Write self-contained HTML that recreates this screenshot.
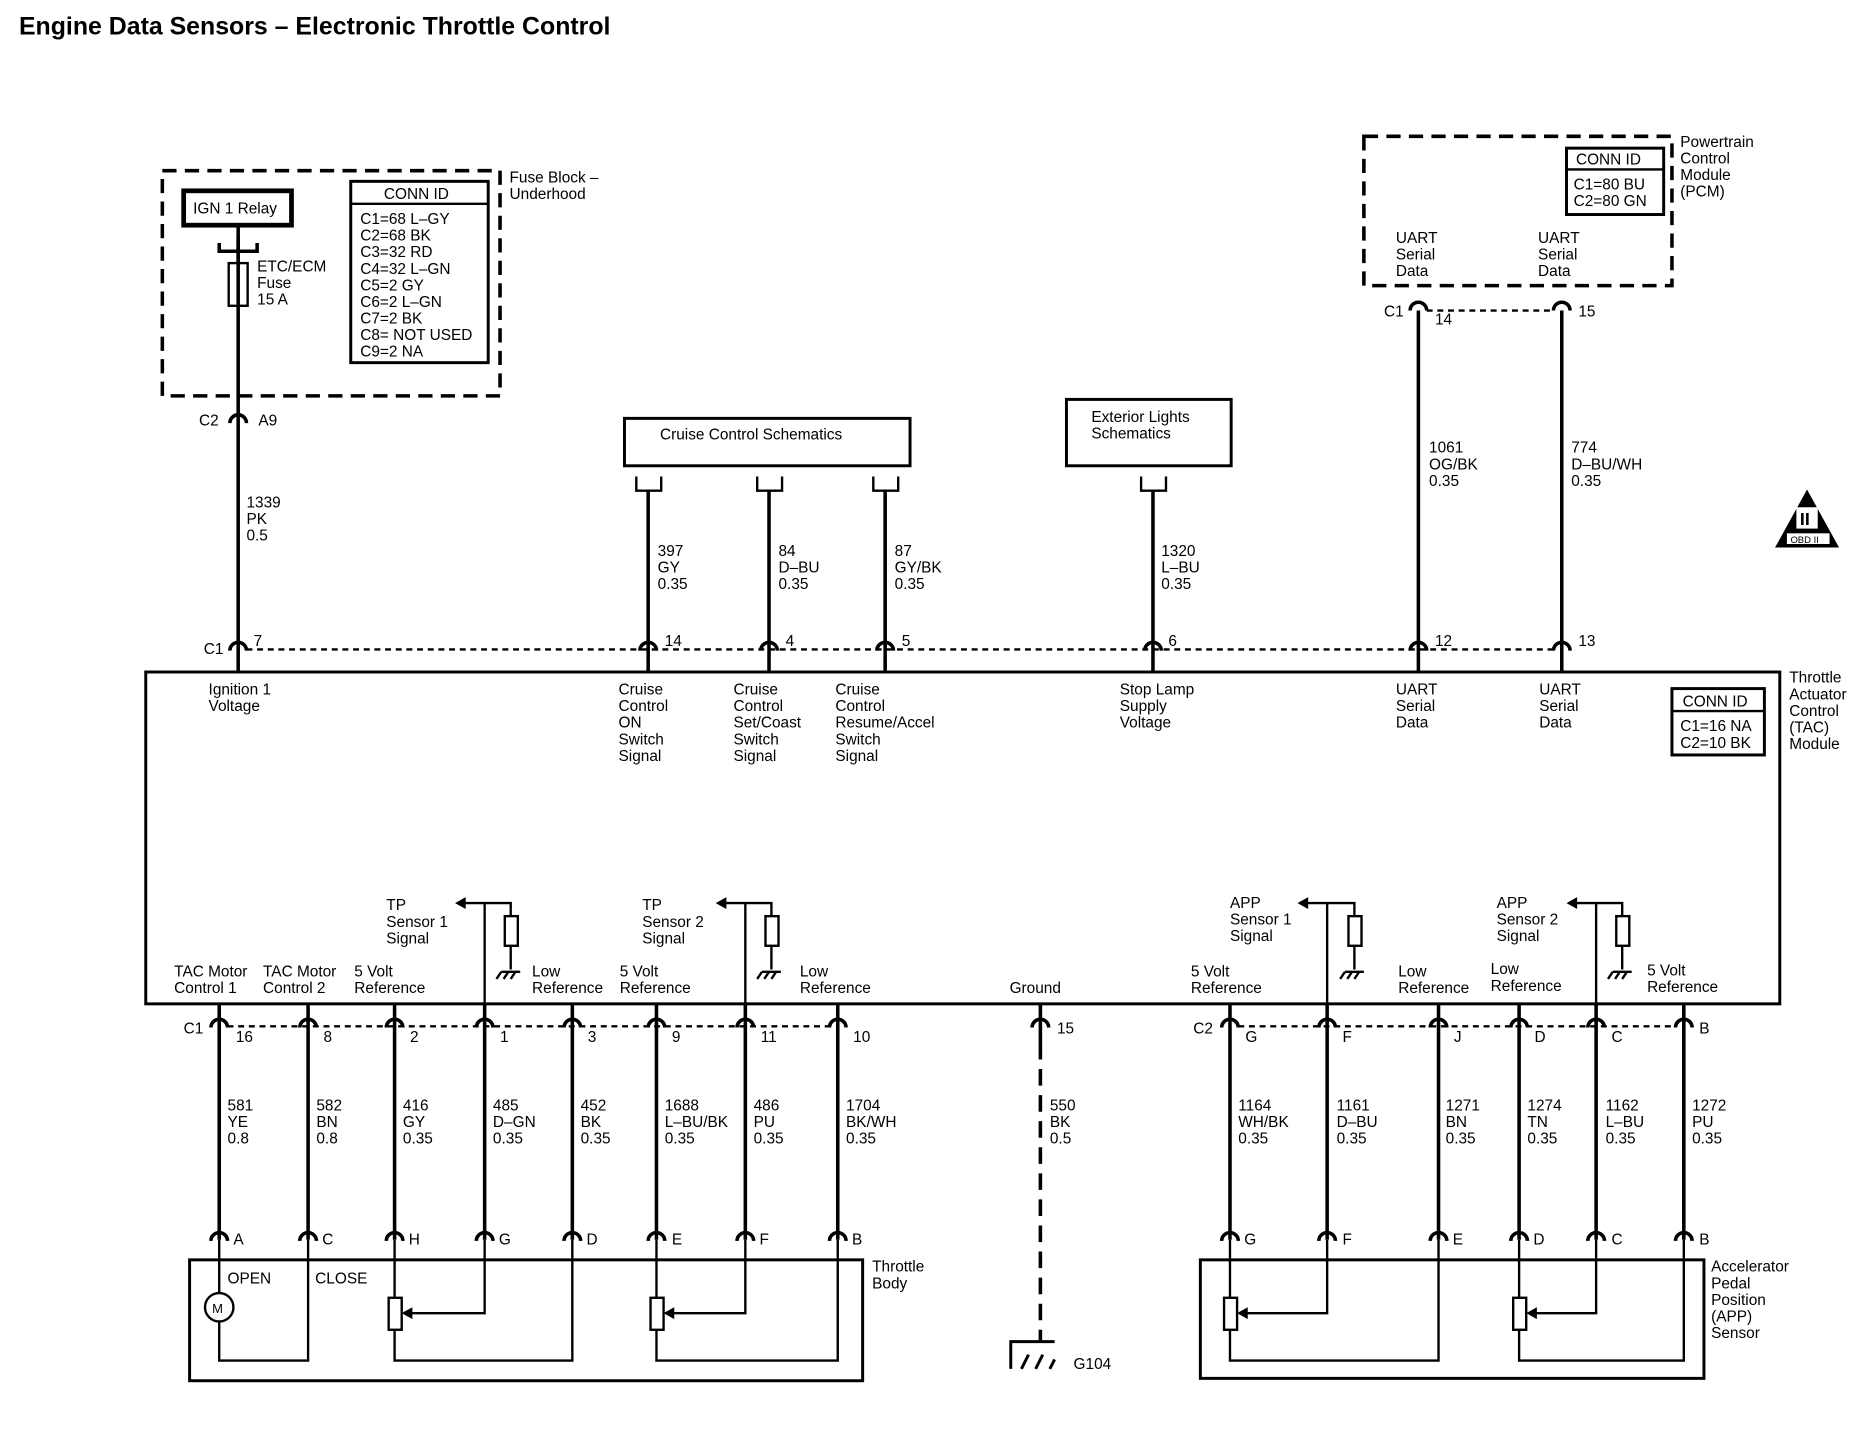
<!DOCTYPE html>
<html><head><meta charset="utf-8"><style>
html,body{margin:0;padding:0;background:#fff}
svg{display:block}
text{font-family:"Liberation Sans",Arial,sans-serif;font-size:13px;fill:#000}
</style></head><body>
<svg width="1858" height="1440" viewBox="0 0 1568 1215" preserveAspectRatio="none" xmlns="http://www.w3.org/2000/svg">
<defs>
<g id="cn"><path d="M-7,5 A7,7 0 0 1 7,5" fill="none" stroke="#000" stroke-width="3"/></g>
<g id="gnd"><path d="M-8,0 H8 M-8,0 l-4,6 M-2,0 l-4,6 M4,0 l-4,6" stroke="#000" stroke-width="2" fill="none"/></g>
</defs>
<g stroke="#000" fill="none" stroke-width="3">
<text x="16" y="29" style="font-size:21px;font-weight:bold" stroke="none">Engine Data Sensors – Electronic Throttle Control</text>

<rect x="137" y="144" width="285" height="190" stroke-dasharray="12,7"/>
<rect x="155" y="161" width="91" height="29" stroke-width="4"/>
<rect x="296" y="153" width="116" height="153" stroke-width="2.5"/>
<line x1="296" y1="172" x2="412" y2="172" stroke-width="2"/>
<path d="M185,205 V212 H217 V205 M201,200 V222"/>
<rect x="193" y="222" width="16" height="36" stroke-width="2"/>
<line x1="201" y1="190" x2="201" y2="548"/>
<rect x="1151" y="115" width="260" height="126" stroke-dasharray="12,7"/>
<rect x="1322" y="125" width="82" height="56" stroke-width="2.5"/>
<line x1="1322" y1="143" x2="1404" y2="143" stroke-width="2"/>
<line x1="1197" y1="262" x2="1197" y2="548"/>
<line x1="1318" y1="262" x2="1318" y2="548"/>
<line x1="1204" y1="262" x2="1311" y2="262" stroke-dasharray="5,4" stroke-width="2"/>
<rect x="527" y="353" width="241" height="40" stroke-width="2.5"/>
<rect x="900" y="337" width="139" height="56" stroke-width="2.5"/>
<path d="M537,402 V414 H558 V402 M639,402 V414 H660 V402 M737,402 V414 H758 V402 M963,402 V414 H984 V402" stroke-width="2"/>
<line x1="547" y1="414" x2="547" y2="548"/>
<line x1="649" y1="414" x2="649" y2="548"/>
<line x1="747" y1="414" x2="747" y2="548"/>
<line x1="973" y1="414" x2="973" y2="548"/>
<rect x="123" y="567" width="1379" height="280" stroke-width="2.5"/>
<line x1="208" y1="548" x2="1311" y2="548" stroke-dasharray="5,4" stroke-width="2"/>
<g stroke-width="3">
<line x1="201" y1="548" x2="201" y2="567"/><line x1="547" y1="548" x2="547" y2="567"/><line x1="649" y1="548" x2="649" y2="567"/><line x1="747" y1="548" x2="747" y2="567"/><line x1="973" y1="548" x2="973" y2="567"/><line x1="1197" y1="548" x2="1197" y2="567"/><line x1="1318" y1="548" x2="1318" y2="567"/>
</g>
<rect x="1411" y="581" width="78" height="56" stroke-width="2.5"/>
<line x1="1411" y1="600" x2="1489" y2="600" stroke-width="2"/>
<g stroke-width="2">
<path d="M409,847 V762 H392 M409,762 H431 V773 M431,798 V818"/>
<rect x="426" y="773" width="11" height="25"/>
<path d="M629,847 V762 H612 M629,762 H651 V773 M651,798 V818"/>
<rect x="646" y="773" width="11" height="25"/>
<path d="M1120,847 V762 H1103 M1120,762 H1143 V773 M1143,798 V818"/>
<rect x="1138" y="773" width="11" height="25"/>
<path d="M1347,847 V762 H1330 M1347,762 H1369 V773 M1369,798 V818"/>
<rect x="1364" y="773" width="11" height="25"/>
</g>
<g fill="#000" stroke="none">
<path d="M384,762 l9,-5 v10z"/><path d="M604,762 l9,-5 v10z"/><path d="M1095,762 l9,-5 v10z"/><path d="M1322,762 l9,-5 v10z"/>
</g>
<use href="#gnd" x="431" y="820"/><use href="#gnd" x="651" y="820"/><use href="#gnd" x="1143" y="820"/><use href="#gnd" x="1369" y="820"/>
<line x1="192" y1="866" x2="700" y2="866" stroke-dasharray="5,4" stroke-width="2"/>
<line x1="1045" y1="866" x2="1414" y2="866" stroke-dasharray="5,4" stroke-width="2"/>
<g>
<line x1="185" y1="847" x2="185" y2="1046"/><line x1="260" y1="847" x2="260" y2="1046"/><line x1="333" y1="847" x2="333" y2="1046"/><line x1="409" y1="847" x2="409" y2="1046"/><line x1="483" y1="847" x2="483" y2="1046"/><line x1="554" y1="847" x2="554" y2="1046"/><line x1="629" y1="847" x2="629" y2="1046"/><line x1="707" y1="847" x2="707" y2="1046"/>
<line x1="878" y1="847" x2="878" y2="880"/>
<line x1="878" y1="880" x2="878" y2="1132" stroke-dasharray="14,8"/>
<line x1="1038" y1="847" x2="1038" y2="1046"/><line x1="1120" y1="847" x2="1120" y2="1046"/><line x1="1214" y1="847" x2="1214" y2="1046"/><line x1="1282" y1="847" x2="1282" y2="1046"/><line x1="1347" y1="847" x2="1347" y2="1046"/><line x1="1421" y1="847" x2="1421" y2="1046"/>
</g>
<path d="M853,1155 V1132 H890 M862,1155 l6,-12 M874,1155 l6,-12 M886,1155 l4,-8" stroke-width="2.5"/>
<rect x="160" y="1063" width="568" height="102" stroke-width="2.5"/>
<g stroke-width="2">
<circle cx="185" cy="1103" r="12"/>
<path d="M185,1046 V1091 M185,1115 V1148 H260 V1046"/>
<path d="M333,1046 V1095 M333,1122 V1148 H483 V1046 M409,1046 V1108 H345"/>
<rect x="328" y="1095" width="11" height="27"/>
<path d="M554,1046 V1095 M554,1122 V1148 H707 V1046 M629,1046 V1108 H566"/>
<rect x="549" y="1095" width="11" height="27"/>
</g>
<rect x="1013" y="1063" width="425" height="100" stroke-width="2.5"/>
<g stroke-width="2">
<path d="M1038,1046 V1095 M1038,1122 V1148 H1214 V1046 M1120,1046 V1108 H1050"/>
<rect x="1033" y="1095" width="11" height="27"/>
<path d="M1282,1046 V1095 M1282,1122 V1148 H1421 V1046 M1347,1046 V1108 H1294"/>
<rect x="1277" y="1095" width="11" height="27"/>
</g>
<g fill="#000" stroke="none">
<path d="M339,1108 l9,-5 v10z"/><path d="M560,1108 l9,-5 v10z"/><path d="M1044,1108 l9,-5 v10z"/><path d="M1288,1108 l9,-5 v10z"/>
</g>
<path d="M1525,413 L1498,462 H1552 Z" fill="#000" stroke="none"/>
<rect x="1516" y="428" width="18" height="18" fill="#fff" stroke="none"/>
<rect x="1508" y="450" width="36" height="9" fill="#fff" stroke="none"/>
</g>
<use href="#cn" x="201" y="352"/><use href="#cn" x="1197" y="257"/><use href="#cn" x="1318" y="257"/>
<use href="#cn" x="201" y="544"/><use href="#cn" x="547" y="544"/><use href="#cn" x="649" y="544"/><use href="#cn" x="747" y="544"/><use href="#cn" x="973" y="544"/><use href="#cn" x="1197" y="544"/><use href="#cn" x="1318" y="544"/>
<use href="#cn" x="185" y="862"/><use href="#cn" x="260" y="862"/><use href="#cn" x="333" y="862"/><use href="#cn" x="409" y="862"/><use href="#cn" x="483" y="862"/><use href="#cn" x="554" y="862"/><use href="#cn" x="629" y="862"/><use href="#cn" x="707" y="862"/><use href="#cn" x="878" y="862"/>
<use href="#cn" x="1038" y="862"/><use href="#cn" x="1120" y="862"/><use href="#cn" x="1214" y="862"/><use href="#cn" x="1282" y="862"/><use href="#cn" x="1347" y="862"/><use href="#cn" x="1421" y="862"/>
<use href="#cn" x="185" y="1042"/><use href="#cn" x="260" y="1042"/><use href="#cn" x="333" y="1042"/><use href="#cn" x="409" y="1042"/><use href="#cn" x="483" y="1042"/><use href="#cn" x="554" y="1042"/><use href="#cn" x="629" y="1042"/><use href="#cn" x="707" y="1042"/>
<use href="#cn" x="1038" y="1042"/><use href="#cn" x="1120" y="1042"/><use href="#cn" x="1214" y="1042"/><use href="#cn" x="1282" y="1042"/><use href="#cn" x="1347" y="1042"/><use href="#cn" x="1421" y="1042"/>

<text x="163" y="180">IGN 1 Relay</text>
<text x="324" y="168">CONN ID</text>
<text x="304" y="189">C1=68 L–GY</text><text x="304" y="203">C2=68 BK</text><text x="304" y="217">C3=32 RD</text><text x="304" y="231">C4=32 L–GN</text><text x="304" y="245">C5=2 GY</text><text x="304" y="259">C6=2 L–GN</text><text x="304" y="273">C7=2 BK</text><text x="304" y="287">C8= NOT USED</text><text x="304" y="301">C9=2 NA</text>
<text x="430" y="154">Fuse Block –</text><text x="430" y="168">Underhood</text>
<text x="217" y="229">ETC/ECM</text><text x="217" y="243">Fuse</text><text x="217" y="257">15 A</text>
<text x="168" y="359">C2</text><text x="218" y="359">A9</text>
<text x="208" y="428">1339</text><text x="208" y="442">PK</text><text x="208" y="456">0.5</text>
<text x="1330" y="139">CONN ID</text><text x="1328" y="160">C1=80 BU</text><text x="1328" y="174">C2=80 GN</text>
<text x="1418" y="124">Powertrain</text><text x="1418" y="138">Control</text><text x="1418" y="152">Module</text><text x="1418" y="166">(PCM)</text>
<text x="1178" y="205">UART</text><text x="1178" y="219">Serial</text><text x="1178" y="233">Data</text>
<text x="1298" y="205">UART</text><text x="1298" y="219">Serial</text><text x="1298" y="233">Data</text>
<text x="1168" y="267">C1</text><text x="1211" y="274">14</text><text x="1332" y="267">15</text>
<text x="1206" y="382">1061</text><text x="1206" y="396">OG/BK</text><text x="1206" y="410">0.35</text>
<text x="1326" y="382">774</text><text x="1326" y="396">D–BU/WH</text><text x="1326" y="410">0.35</text>
<text x="557" y="371">Cruise Control Schematics</text>
<text x="921" y="356">Exterior Lights</text><text x="921" y="370">Schematics</text>
<text x="555" y="469">397</text><text x="555" y="483">GY</text><text x="555" y="497">0.35</text>
<text x="657" y="469">84</text><text x="657" y="483">D–BU</text><text x="657" y="497">0.35</text>
<text x="755" y="469">87</text><text x="755" y="483">GY/BK</text><text x="755" y="497">0.35</text>
<text x="980" y="469">1320</text><text x="980" y="483">L–BU</text><text x="980" y="497">0.35</text>
<text x="1519" y="443" style="font-size:15px;font-weight:bold">II</text>
<text x="1511" y="458" style="font-size:8px">OBD II</text>
<text x="172" y="552">C1</text><text x="214" y="545">7</text><text x="561" y="545">14</text><text x="663" y="545">4</text><text x="761" y="545">5</text><text x="986" y="545">6</text><text x="1211" y="545">12</text><text x="1332" y="545">13</text>
<text x="176" y="586">Ignition 1</text><text x="176" y="600">Voltage</text>
<text x="522" y="586">Cruise</text><text x="522" y="600">Control</text><text x="522" y="614">ON</text><text x="522" y="628">Switch</text><text x="522" y="642">Signal</text>
<text x="619" y="586">Cruise</text><text x="619" y="600">Control</text><text x="619" y="614">Set/Coast</text><text x="619" y="628">Switch</text><text x="619" y="642">Signal</text>
<text x="705" y="586">Cruise</text><text x="705" y="600">Control</text><text x="705" y="614">Resume/Accel</text><text x="705" y="628">Switch</text><text x="705" y="642">Signal</text>
<text x="945" y="586">Stop Lamp</text><text x="945" y="600">Supply</text><text x="945" y="614">Voltage</text>
<text x="1178" y="586">UART</text><text x="1178" y="600">Serial</text><text x="1178" y="614">Data</text>
<text x="1299" y="586">UART</text><text x="1299" y="600">Serial</text><text x="1299" y="614">Data</text>
<text x="1420" y="596">CONN ID</text><text x="1418" y="617">C1=16 NA</text><text x="1418" y="631">C2=10 BK</text>
<text x="1510" y="576">Throttle</text><text x="1510" y="590">Actuator</text><text x="1510" y="604">Control</text><text x="1510" y="618">(TAC)</text><text x="1510" y="632">Module</text>
<text x="326" y="768">TP</text><text x="326" y="782">Sensor 1</text><text x="326" y="796">Signal</text>
<text x="542" y="768">TP</text><text x="542" y="782">Sensor 2</text><text x="542" y="796">Signal</text>
<text x="1038" y="766">APP</text><text x="1038" y="780">Sensor 1</text><text x="1038" y="794">Signal</text>
<text x="1263" y="766">APP</text><text x="1263" y="780">Sensor 2</text><text x="1263" y="794">Signal</text>
<text x="147" y="824">TAC Motor</text><text x="147" y="838">Control 1</text>
<text x="222" y="824">TAC Motor</text><text x="222" y="838">Control 2</text>
<text x="299" y="824">5 Volt</text><text x="299" y="838">Reference</text>
<text x="449" y="824">Low</text><text x="449" y="838">Reference</text>
<text x="523" y="824">5 Volt</text><text x="523" y="838">Reference</text>
<text x="675" y="824">Low</text><text x="675" y="838">Reference</text>
<text x="852" y="838">Ground</text>
<text x="1005" y="824">5 Volt</text><text x="1005" y="838">Reference</text>
<text x="1180" y="824">Low</text><text x="1180" y="838">Reference</text>
<text x="1258" y="822">Low</text><text x="1258" y="836">Reference</text>
<text x="1390" y="823">5 Volt</text><text x="1390" y="837">Reference</text>
<text x="155" y="872">C1</text><text x="199" y="879">16</text><text x="273" y="879">8</text><text x="346" y="879">2</text><text x="422" y="879">1</text><text x="496" y="879">3</text><text x="567" y="879">9</text><text x="642" y="879">11</text><text x="720" y="879">10</text><text x="892" y="872">15</text>
<text x="1007" y="872">C2</text><text x="1051" y="879">G</text><text x="1133" y="879">F</text><text x="1227" y="879">J</text><text x="1295" y="879">D</text><text x="1360" y="879">C</text><text x="1434" y="872">B</text>
<text x="192" y="937">581</text><text x="192" y="951">YE</text><text x="192" y="965">0.8</text>
<text x="267" y="937">582</text><text x="267" y="951">BN</text><text x="267" y="965">0.8</text>
<text x="340" y="937">416</text><text x="340" y="951">GY</text><text x="340" y="965">0.35</text>
<text x="416" y="937">485</text><text x="416" y="951">D–GN</text><text x="416" y="965">0.35</text>
<text x="490" y="937">452</text><text x="490" y="951">BK</text><text x="490" y="965">0.35</text>
<text x="561" y="937">1688</text><text x="561" y="951">L–BU/BK</text><text x="561" y="965">0.35</text>
<text x="636" y="937">486</text><text x="636" y="951">PU</text><text x="636" y="965">0.35</text>
<text x="714" y="937">1704</text><text x="714" y="951">BK/WH</text><text x="714" y="965">0.35</text>
<text x="886" y="937">550</text><text x="886" y="951">BK</text><text x="886" y="965">0.5</text>
<text x="1045" y="937">1164</text><text x="1045" y="951">WH/BK</text><text x="1045" y="965">0.35</text>
<text x="1128" y="937">1161</text><text x="1128" y="951">D–BU</text><text x="1128" y="965">0.35</text>
<text x="1220" y="937">1271</text><text x="1220" y="951">BN</text><text x="1220" y="965">0.35</text>
<text x="1289" y="937">1274</text><text x="1289" y="951">TN</text><text x="1289" y="965">0.35</text>
<text x="1355" y="937">1162</text><text x="1355" y="951">L–BU</text><text x="1355" y="965">0.35</text>
<text x="1428" y="937">1272</text><text x="1428" y="951">PU</text><text x="1428" y="965">0.35</text>
<text x="197" y="1050">A</text><text x="272" y="1050">C</text><text x="345" y="1050">H</text><text x="421" y="1050">G</text><text x="495" y="1050">D</text><text x="567" y="1050">E</text><text x="641" y="1050">F</text><text x="719" y="1050">B</text>
<text x="1050" y="1050">G</text><text x="1133" y="1050">F</text><text x="1226" y="1050">E</text><text x="1294" y="1050">D</text><text x="1360" y="1050">C</text><text x="1434" y="1050">B</text>
<text x="192" y="1083">OPEN</text><text x="266" y="1083">CLOSE</text>
<text x="179" y="1108" style="font-size:11px">M</text>
<text x="736" y="1073">Throttle</text><text x="736" y="1087">Body</text>
<text x="906" y="1155">G104</text>
<text x="1444" y="1073">Accelerator</text><text x="1444" y="1087">Pedal</text><text x="1444" y="1101">Position</text><text x="1444" y="1115">(APP)</text><text x="1444" y="1129">Sensor</text>
</svg>
</body></html>
